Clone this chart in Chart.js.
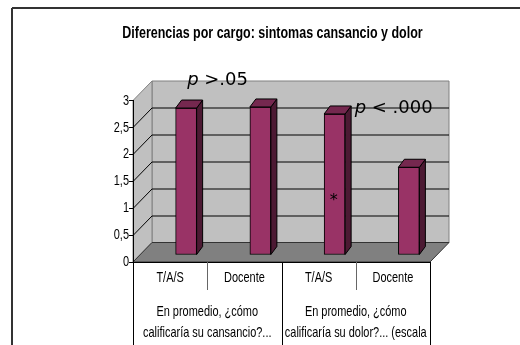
<!DOCTYPE html>
<html lang="es">
<head>
<meta charset="utf-8">
<title>Diferencias por cargo</title>
<script src="https://cdn.jsdelivr.net/npm/chart.js@4/dist/chart.umd.min.js"></script>
<style>
  html, body { margin: 0; padding: 0; background: #fff; }
  #c { display: block; }
</style>
</head>
<body>
<canvas id="c" width="520" height="345"></canvas>
<script>
// ---- data ----
const categories = ['T/A/S', 'Docente', 'T/A/S', 'Docente'];
const groupLabels = [
  ['En promedio, ¿cómo', 'calificaría su cansancio?...'],
  ['En promedio, ¿cómo', 'calificaría su dolor?... (escala']
];
const values = [2.73, 2.75, 2.62, 1.63];
const yTickLabels = ['0', '0,5', '1', '1,5', '2', '2,5', '3'];
const titleText = 'Diferencias por cargo: sintomas cansancio y dolor';
const noteGroup1 = ['p', ' >.05'];
const noteGroup2 = ['p', ' < .000'];
const starMark = '*';

// ---- look ----
const SANS = "'Liberation Sans', Arial, sans-serif";
const AXIS_SQUASH = 0.73;   // condensed axis lettering
const TITLE_SQUASH = 0.78;
const WALL = '#c0c0c0';
const FLOOR = '#808080';
const BAR_FRONT = '#993366';
const BAR_SIDE = '#4c1a33';
const BAR_TOP = '#75284f';
const DEPTH = { x: 19, y: -19.5 };     // back wall offset from the front plane
const BAR_SHIFT = { x: 16, y: -7 };    // where the columns stand on the floor
const BAR_DEPTH = { x: 6, y: -8 };     // column thickness

// fillText that can draw horizontally condensed lettering
function enableSquash(ctx) {
  if (ctx.squash !== undefined) return;
  const nativeFill = CanvasRenderingContext2D.prototype.fillText;
  ctx.squash = 1;
  ctx.fillText = function (text, x, y, maxWidth) {
    if (this.squash !== 1) {
      const w = this.measureText(text).width * this.squash;
      maxWidth = maxWidth === undefined ? w : Math.min(maxWidth, w);
    }
    return maxWidth === undefined
      ? nativeFill.call(this, text, x, y)
      : nativeFill.call(this, text, x, y, maxWidth);
  };
}

function line(ctx, x1, y1, x2, y2, color, w) {
  ctx.beginPath();
  ctx.moveTo(x1, y1);
  ctx.lineTo(x2, y2);
  ctx.strokeStyle = color;
  ctx.lineWidth = w || 1;
  ctx.stroke();
}

function poly(ctx, pts, fill, stroke) {
  ctx.beginPath();
  ctx.moveTo(pts[0][0], pts[0][1]);
  for (let i = 1; i < pts.length; i++) ctx.lineTo(pts[i][0], pts[i][1]);
  ctx.closePath();
  if (fill) { ctx.fillStyle = fill; ctx.fill(); }
  if (stroke) { ctx.strokeStyle = stroke; ctx.lineWidth = 1; ctx.stroke(); }
}

// walls, floor and their gridlines behind the axes
const box3d = {
  id: 'box3d',
  beforeDraw(chart) {
    const { ctx, chartArea: a, scales: { y } } = chart;
    enableSquash(ctx);
    const dx = DEPTH.x, dy = DEPTH.y;
    const y0 = y.getPixelForValue(0), yTop = y.getPixelForValue(y.max);
    ctx.save();
    // back wall
    poly(ctx, [[a.left + dx, yTop + dy], [a.right + dx, yTop + dy], [a.right + dx, y0 + dy], [a.left + dx, y0 + dy]], WALL, FLOOR);
    // side wall
    poly(ctx, [[a.left, y0], [a.left, yTop], [a.left + dx, yTop + dy], [a.left + dx, y0 + dy]], WALL, FLOOR);
    // gridlines on both walls
    y.ticks.forEach(t => {
      if (t.value <= 0 || t.value >= y.max) return;
      const py = Math.round(y.getPixelForValue(t.value)) + 0.5;
      line(ctx, a.left, py, a.left + dx, py + dy, '#000');
      line(ctx, a.left + dx, py + dy, a.right + dx, py + dy, '#000');
    });
    // floor
    poly(ctx, [[a.left, y0], [a.right, y0], [a.right + dx, y0 + dy], [a.left + dx, y0 + dy]], FLOOR, '#333');
    ctx.restore();
    // axis labels come next, in condensed lettering
    ctx.squash = AXIS_SQUASH;
  },
  beforeDatasetsDraw(chart) {
    chart.ctx.squash = 1;
    chart.ctx.save();
    chart.ctx.translate(BAR_SHIFT.x, BAR_SHIFT.y);
  },
  afterDatasetsDraw(chart) {
    const ctx = chart.ctx;
    const meta = chart.getDatasetMeta(0);
    const bx = BAR_DEPTH.x, by = BAR_DEPTH.y;
    meta.data.forEach(bar => {
      const { x, y, base, width } = bar.getProps(['x', 'y', 'base', 'width'], true);
      const l = x - width / 2, r = x + width / 2;
      poly(ctx, [[r, y], [r + bx, y + by], [r + bx, base + by], [r, base]], BAR_SIDE, '#000');
      poly(ctx, [[l, y], [l + bx, y + by], [r + bx, y + by], [r, y]], BAR_TOP, '#000');
    });
    ctx.restore();
  },
  afterDraw(chart) {
    const { ctx, chartArea: a, scales: { x, y } } = chart;
    const H = chart.height;
    ctx.save();
    ctx.squash = 1;
    // label table under the floor
    const step = x.getPixelForValue(1) - x.getPixelForValue(0);
    for (let i = 0; i <= categories.length; i++) {
      const px = Math.round(x.getPixelForValue(0) - step / 2 + i * step) + 0.5;
      const full = i % 2 === 0;
      line(ctx, px, a.bottom, px, full ? H : x.bottom, full ? '#000' : '#666');
    }
    // title
    ctx.fillStyle = '#000';
    ctx.textAlign = 'center';
    ctx.textBaseline = 'alphabetic';
    ctx.font = "bold 16px " + SANS;
    ctx.squash = TITLE_SQUASH;
    ctx.fillText(titleText, (a.left + a.right) / 2 - 9, 38);
    ctx.squash = 1;
    // significance notes
    const drawNote = (parts, left, base) => {
      ctx.textAlign = 'left';
      ctx.font = "italic 18px 'DejaVu Sans', sans-serif";
      ctx.fillText(parts[0], left, base);
      const w = ctx.measureText(parts[0]).width;
      ctx.font = "18px 'DejaVu Sans', sans-serif";
      ctx.fillText(parts[1], left + w, base);
    };
    const yTop = y.getPixelForValue(y.max);
    drawNote(noteGroup1, x.getPixelForValue(0) + 17, yTop - 16);
    drawNote(noteGroup2, x.getPixelForValue(2) + 36, yTop + 12);
    // asterisk inside the first column of the second group
    ctx.textAlign = 'center';
    ctx.font = "16px 'DejaVu Sans', sans-serif";
    ctx.fillText(starMark, x.getPixelForValue(2) + BAR_SHIFT.x - 1, y.getPixelForValue(1.1) + BAR_SHIFT.y + 9);
    // outer frame
    line(ctx, 12, 8, chart.width, 8, '#333', 2);
    line(ctx, 12, 8, 12, H, '#333', 2);
    ctx.restore();
  }
};

new Chart(document.getElementById('c'), {
  type: 'bar',
  data: {
    labels: categories,
    datasets: [{
      data: values,
      backgroundColor: BAR_FRONT,
      borderColor: '#000',
      borderWidth: 1,
      borderSkipped: false,
      barThickness: 21
    }]
  },
  options: {
    responsive: false,
    animation: false,
    events: [],
    layout: { padding: { left: 93, right: 90, top: 100.5, bottom: 0 } },
    plugins: { legend: { display: false }, title: { display: false }, tooltip: { enabled: false } },
    scales: {
      x: {
        position: 'bottom',
        weight: 0,
        grid: { display: false, drawTicks: false },
        border: { display: true, color: '#000', width: 1 },
        ticks: { color: '#000', padding: 7, maxRotation: 0, minRotation: 0, autoSkip: false, font: { family: SANS, size: 15 } },
        afterFit: s => { s.height = 28; }
      },
      x2: {
        type: 'category',
        position: 'bottom',
        weight: 1,
        labels: groupLabels,
        offset: true,
        grid: { display: false, drawTicks: false },
        border: { display: false },
        ticks: { color: '#000', padding: 11.5, maxRotation: 0, minRotation: 0, autoSkip: false, font: { family: SANS, size: 15, lineHeight: '21px' } },
        afterFit: s => { s.height = 55; }
      },
      y: {
        min: 0,
        max: 3,
        ticks: {
          stepSize: 0.5,
          color: '#000',
          padding: 0,
          font: { family: SANS, size: 15 },
          callback: (v, i) => yTickLabels[i]
        },
        grid: { display: true, drawOnChartArea: false, drawTicks: true, tickLength: 4, color: '#000' },
        border: { display: true, color: '#000', width: 1 },
        afterFit: s => { s.width = 40; }
      }
    }
  },
  plugins: [box3d]
});
</script>
</body>
</html>
